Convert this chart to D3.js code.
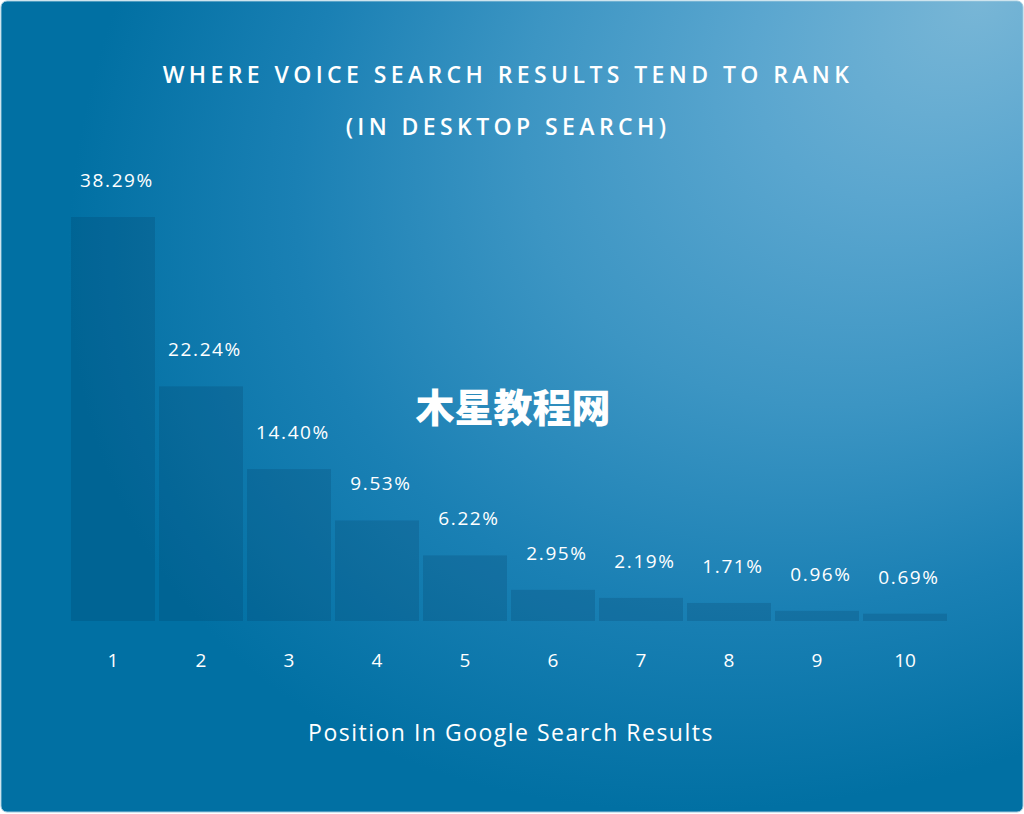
<!DOCTYPE html>
<html><head><meta charset="utf-8">
<script src="https://cdn.jsdelivr.net/npm/d3@7"></script>
<style>html,body{margin:0;padding:0;background:#fff;}svg{display:block;}</style>
</head><body>
<script>
const categories = ["1","2","3","4","5","6","7","8","9","10"];
const values = [38.29, 22.24, 14.40, 9.53, 6.22, 2.95, 2.19, 1.71, 0.96, 0.69];
const valueLabels = ["38.29%","22.24%","14.40%","9.53%","6.22%","2.95%","2.19%","1.71%","0.96%","0.69%"];
const titleLines = ["WHERE VOICE SEARCH RESULTS TEND TO RANK","(IN DESKTOP SEARCH)"];
const xTitle = "Position In Google Search Results";
const watermark = "木星教程网";

const W = 1024, H = 814;
const svg = d3.select("body").append("svg").attr("width", W).attr("height", H);
const defs = svg.append("defs");
const rg = defs.append("radialGradient").attr("id","bg").attr("gradientUnits","userSpaceOnUse")
  .attr("cx",0).attr("cy",0).attr("r",1000)
  .attr("gradientTransform","translate(980,0) rotate(145) scale(1,0.7)");
[["0","#78b6d6"],["0.25","#5aa6cf"],["0.5","#3c95c3"],["0.75","#1a80b4"],["1","#0170a3"]]
  .forEach(s => rg.append("stop").attr("offset",s[0]).attr("stop-color",s[1]));

svg.append("rect").attr("x",1).attr("y",1).attr("width",W-2).attr("height",H-3)
  .attr("rx",6).attr("fill","url(#bg)").attr("stroke","#9cc8dd").attr("stroke-width",1);

const x = d3.scaleBand().domain(categories).range([71, 947]).paddingInner(4/88).paddingOuter(0);
const y = d3.scaleLinear().domain([0, 40]).range([621, 199]);

const g = svg.append("g");
g.selectAll("rect.bar").data(values).join("rect").attr("class","bar")
  .attr("x",(d,i)=>x(categories[i])).attr("width",x.bandwidth())
  .attr("y",d=>y(d)).attr("height",d=>y(0)-y(d))
  .attr("fill","rgba(0,40,80,0.17)");

g.selectAll("text.val").data(values).join("text").attr("class","val")
  .attr("x",(d,i)=>x(categories[i])+x.bandwidth()/2+4).attr("y",d=>y(d)-30)
  .attr("text-anchor","middle").attr("fill","#ffffff")
  .style("font-family","'Open Sans', sans-serif").style("font-size","19px")
  .style("letter-spacing","1.6px")
  .text((d,i)=>valueLabels[i]);

const xAxis = d3.axisBottom(x).tickSize(0).tickPadding(0);
const ax = svg.append("g").attr("transform","translate(0,667)").call(xAxis);
ax.select(".domain").remove();
ax.selectAll("text").attr("dy",0).attr("dx",0).attr("fill","#ffffff")
  .style("font-family","'Open Sans', sans-serif").style("font-size","19px");

svg.append("text").attr("x",511).attr("y",741).attr("text-anchor","middle").attr("fill","#fff")
  .style("font-family","'Open Sans', sans-serif").style("font-size","23px")
  .style("letter-spacing","1.5px").text(xTitle);

svg.selectAll("text.title").data(titleLines).join("text").attr("class","title")
  .attr("x",508).attr("y",(d,i)=>83+i*52).attr("text-anchor","middle").attr("fill","#fff")
  .style("font-family","'Open Sans', sans-serif").style("font-size","23px").style("font-weight","600")
  .style("letter-spacing","4.4px").text(d=>d);

svg.append("text").attr("x",513).attr("y",422).attr("text-anchor","middle").attr("fill","#fff")
  .style("font-family","'Noto Sans CJK SC', sans-serif").style("font-size","39px").style("font-weight","900")
  .text(watermark);
</script>
</body></html>
